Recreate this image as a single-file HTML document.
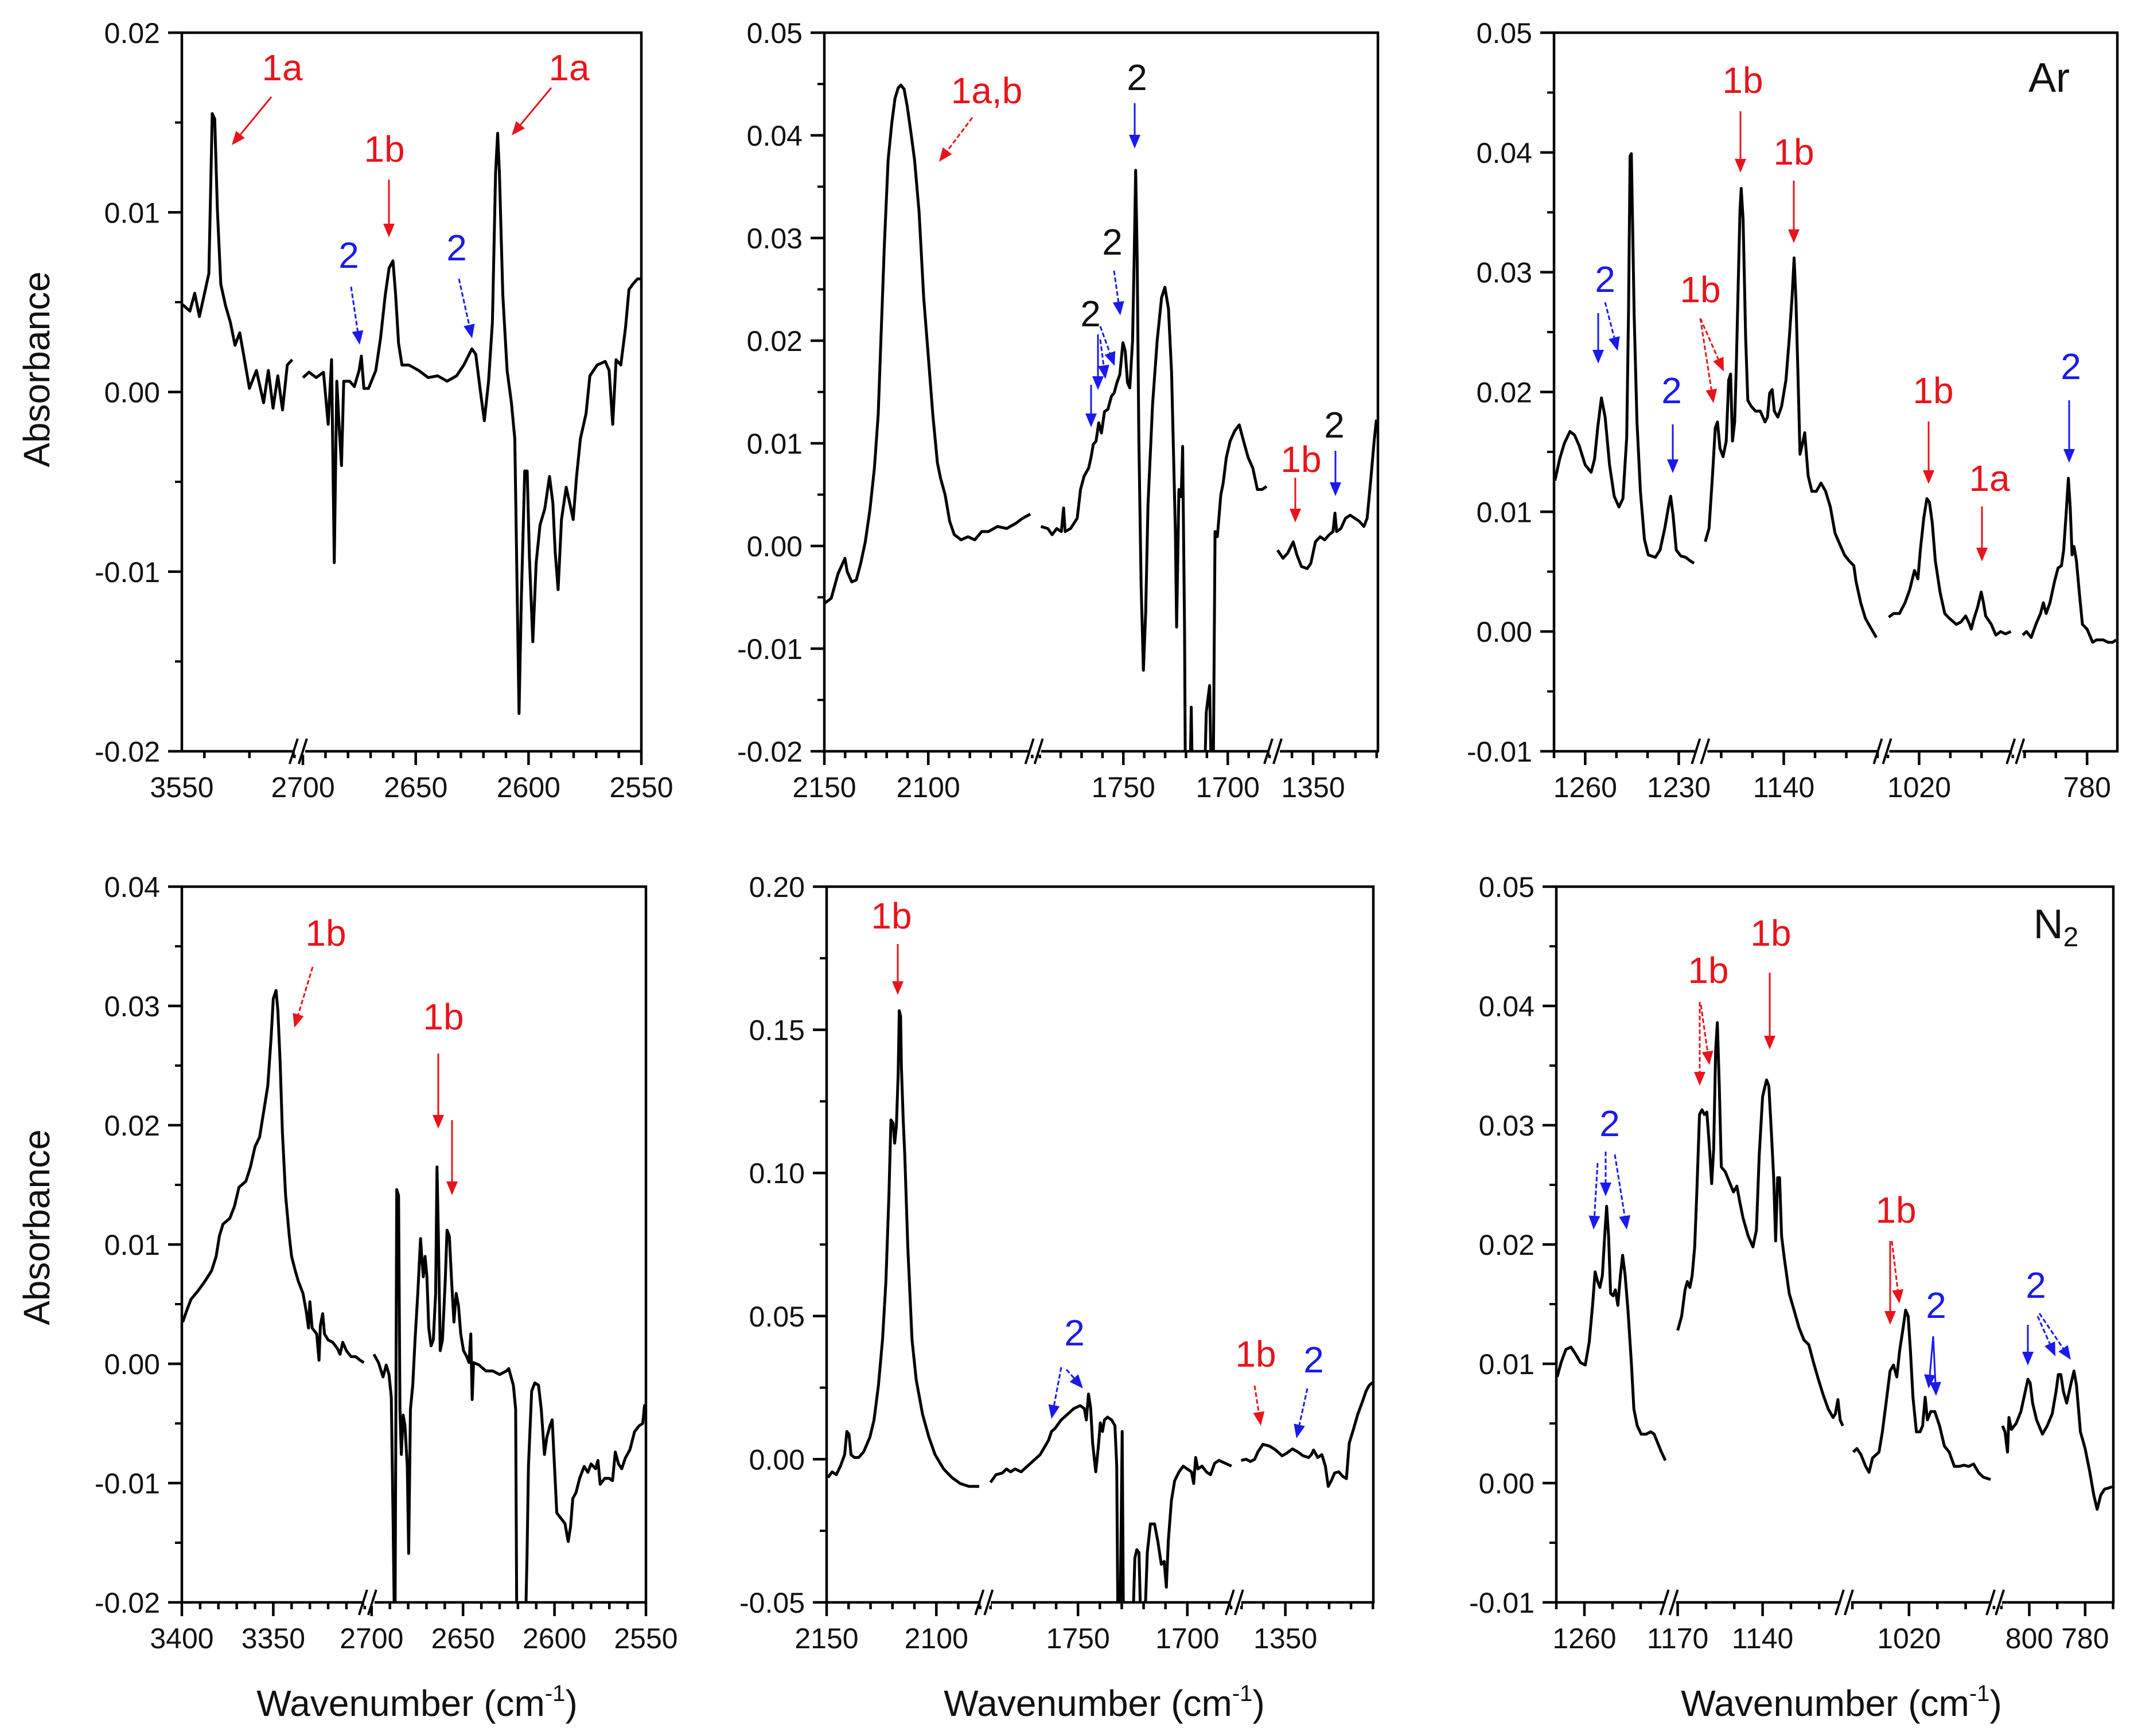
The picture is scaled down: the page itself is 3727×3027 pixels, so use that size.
<!DOCTYPE html>
<html><head><meta charset="utf-8"><style>
html,body{margin:0;padding:0;background:#fff}
svg{display:block}
text{font-family:"Liberation Sans",Arial,sans-serif}
</style></head><body>
<svg id="fig" width="3727" height="3027" viewBox="0 0 3727 3027" xmlns="http://www.w3.org/2000/svg">
<rect width="3727" height="3027" fill="#fff"/>
</svg>
<script>
// ---------- DATA (wavenumber cm-1, absorbance) ----------
const p1aX=[3550,3546.4,3544.3,3542.2,3540.1,3538,3536.5,3535.4,3534.2,3532.7,3530.6,3528.5,3526.4,3524.3,3522.2,3520,3516.9,3513.7,3511.6,3509.5,3507.4,3505.3,3503.2,3501];
const p1aY=[0.0049,0.0045,0.0055,0.0042,0.0054,0.0066,0.0155,0.0152,0.0101,0.006,0.0048,0.0039,0.0026,0.0033,0.0018,0.0002,0.0012,-0.0006,0.0012,-0.0009,0.0009,-0.001,0.0015,0.0018];
const p1bX=[2700,2697.3,2694.1,2690.9,2688.8,2687.3,2686.1,2685,2684,2682.9,2681.9,2679.3,2677.2,2675.1,2674.1,2673,2670.9,2667.7,2665.6,2663.5,2661.8,2660.1,2658.9,2657.6,2656.1,2653,2648.7,2644.5,2640.3,2636.1,2631.9,2628.7,2625.1,2623.4,2621.3,2619.6,2617.7,2616,2614.6,2613.7,2612.9,2611.4,2609.5,2607.6,2606.1,2605.1,2604.2,2603.2,2601.7,2600.6,2599.6,2598.1,2596.6,2594.9,2592.8,2590.7,2589.2,2588.2,2586.9,2585.4,2583.3,2581.2,2580.2,2578.7,2577,2574.5,2572.8,2569.6,2566,2564.3,2562.7,2561.2,2559.1,2557,2555.5,2553.8,2551.7,2550];
const p1bY=[0.0008,0.0011,0.0008,0.0011,-0.0018,0.0018,-0.0095,0.0006,-0.0018,-0.0041,0.0006,0.0006,0.0003,0.0012,0.002,0.0002,0.0002,0.0012,0.003,0.0054,0.0069,0.0073,0.0054,0.0027,0.0015,0.0015,0.0012,0.0008,0.0009,0.0006,0.0009,0.0015,0.0024,0.0021,0,-0.0016,0.0006,0.0039,0.0122,0.0144,0.0122,0.0054,0.0012,-0.0006,-0.0026,-0.0107,-0.0179,-0.0115,-0.0044,-0.0044,-0.0092,-0.0139,-0.0095,-0.0074,-0.0065,-0.0047,-0.0062,-0.0089,-0.011,-0.0071,-0.0053,-0.0065,-0.0071,-0.0047,-0.0026,-0.0012,0.0009,0.0015,0.0017,0.0012,-0.0018,0.0018,0.0015,0.0036,0.0057,0.006,0.0063,0.0063];
const p2aX=[2150,2146.7,2143.4,2140.1,2139,2136.8,2134.6,2132.5,2130.3,2128.1,2125.9,2124.1,2122.6,2121.1,2119.3,2117.5,2116,2114.5,2113.2,2111.6,2110.1,2108.3,2106.6,2104.4,2102.2,2100,2097.8,2095.6,2094.1,2091.9,2089.7,2087.5,2084.2,2080.9,2077.6,2074.3,2071.1,2066.7,2062.3,2057.9,2054.6,2050.9];
const p2aY=[-0.0056,-0.0051,-0.0027,-0.0012,-0.0025,-0.0035,-0.0033,-0.0017,0.0004,0.0035,0.0076,0.0128,0.0211,0.0294,0.0376,0.0413,0.0436,0.0446,0.0449,0.0445,0.0428,0.0402,0.0376,0.0325,0.0242,0.0185,0.0128,0.0081,0.0066,0.005,0.0024,0.0011,0.0006,0.0009,0.0006,0.0014,0.0014,0.0019,0.0017,0.0022,0.0027,0.0031];
const p2bX=[1789.5,1786.2,1784.1,1781.9,1779.7,1778.6,1777.9,1775.3,1772.1,1770.5,1768.8,1766.6,1765.5,1764.4,1763.1,1761.8,1760.5,1759,1757.4,1755.7,1754.4,1753.1,1751.7,1750.2,1749.1,1748,1746.9,1745.6,1744.8,1744.1,1743.4,1742.6,1741.5,1740.4,1739.3,1738.2,1736,1733.8,1731.7,1730.1,1728.4,1726.9,1725.8,1725.1,1724.5,1723.4,1722.3,1721.6,1720.7,1720.1,1718.6,1717.5,1716.4,1714.6,1712,1710.3,1708.7,1707.2,1706.1,1705,1703.3,1702.2,1700.7,1698.9,1696.7,1694.5,1692.4,1690.2,1688,1685.8,1683.6,1681.4];
const p2bY=[0.0019,0.0017,0.0011,0.0017,0.0014,0.0037,0.0014,0.0017,0.0027,0.0055,0.0068,0.0076,0.0086,0.0099,0.0102,0.012,0.011,0.0131,0.0133,0.0146,0.0149,0.0159,0.0167,0.0198,0.019,0.0159,0.0154,0.02,0.0283,0.0366,0.0283,0.0107,-0.0038,-0.0121,-0.0064,0.004,0.0138,0.02,0.0242,0.0252,0.0231,0.0169,0.0076,0.0014,-0.0079,0.0055,0.0048,0.0097,-0.0079,-0.03,-0.03,-0.0157,-0.03,-0.03,-0.03,-0.0162,-0.0136,-0.03,0.0014,0.0009,0.005,0.0061,0.0086,0.0102,0.0112,0.0118,0.0102,0.0086,0.0076,0.0055,0.0055,0.0058];
const p2cX=[1366.8,1364.2,1362,1359.4,1357.6,1355.5,1352.8,1351.1,1348.9,1346.7,1344.5,1342.4,1340.6,1339.7,1338.9,1336.9,1334.7,1332.5,1330.3,1328.2,1326,1324.5,1322.7,1321.2,1320.1];
const p2cY=[-0.0004,-0.0012,-0.0007,0.0004,-0.0009,-0.002,-0.0022,-0.0017,0.0004,0.0009,0.0006,0.0011,0.0014,0.0032,0.0014,0.0017,0.0027,0.003,0.0027,0.0024,0.0019,0.0027,0.0066,0.0102,0.0123];
const p3aX=[1269.7,1268.2,1266.7,1264.9,1263.4,1261.9,1260,1258.1,1257,1256,1254.8,1253.6,1252.2,1250.7,1249.2,1247.9,1246.7,1246.1,1245.6,1245.2,1244.7,1244.3,1243.4,1242.3,1241,1239.8,1237.5,1236,1234.5,1233.3,1232.6,1231.8,1230.8,1229.3,1227.8,1226.3,1225.1];
const p3aY=[0.0126,0.0144,0.0157,0.0167,0.0164,0.0155,0.0139,0.0133,0.0144,0.017,0.0195,0.0179,0.0139,0.0113,0.0104,0.0111,0.0162,0.0268,0.0397,0.0399,0.0326,0.0264,0.0175,0.0117,0.0077,0.0064,0.0062,0.0068,0.0086,0.0104,0.0113,0.0097,0.0068,0.0063,0.0062,0.0059,0.0057];
const p3bX=[1165.1,1163.9,1162.8,1161.9,1161.2,1160.4,1159.4,1158.4,1157.6,1157,1156.4,1155.7,1155.2,1154.6,1154,1153.6,1153,1152.2,1151.5,1150.4,1149,1147.5,1146,1145.2,1144.5,1143.7,1143,1141.9,1140.7,1139.3,1138.2,1137.3,1136.7,1136.1,1135.5,1134.8,1134,1133.3,1132.2,1131,1129.6,1128.1,1126.6,1125.1,1123.6,1122.1,1120.6,1119.1,1117.6,1116.9,1115.4,1113.9,1112.4,1110.4];
const p3bY=[0.0075,0.0086,0.013,0.017,0.0175,0.0153,0.0146,0.0159,0.021,0.0215,0.0159,0.0175,0.0219,0.0286,0.0352,0.037,0.0344,0.0246,0.0193,0.0188,0.0184,0.0184,0.0175,0.0179,0.0199,0.0202,0.0184,0.0179,0.0188,0.021,0.0246,0.0281,0.0312,0.0277,0.0219,0.0148,0.0157,0.0166,0.013,0.0117,0.0117,0.0124,0.0117,0.0104,0.0082,0.0073,0.0064,0.0059,0.0055,0.0042,0.0024,0.0011,0.0004,-0.0005];
const p3cX=[1029.7,1028.2,1026.3,1024.5,1023,1021.5,1020.4,1019.6,1018.5,1017.5,1016.7,1015.8,1014.8,1013.3,1011.8,1010.3,1008.1,1006.6,1005.1,1004,1003.3,1002.4,1001.3,1000.1,999.4,998.7,996.9,995.4,993.9,992.4,990.6];
const p3cY=[0.0012,0.0015,0.0015,0.0024,0.0035,0.0051,0.0044,0.0068,0.0095,0.0111,0.0108,0.0091,0.0059,0.0033,0.0015,0.0011,0.0006,0.0008,0.0013,0.0007,0.0002,0.0011,0.002,0.0033,0.0024,0.0013,0.0006,-0.0003,0,-0.0002,0];
const p3dX=[800.6,799.4,797.9,796.4,794.9,794,793.1,791.9,790.4,789.3,788.2,787.5,786.7,786,785.4,784.8,784.2,783.4,782.5,781.5,780,778.2,777,774.8,773.3,771.8,770.7];
const p3dY=[-0.0003,0,-0.0005,0.0006,0.0015,0.0024,0.0015,0.0024,0.0042,0.0053,0.0055,0.0068,0.0099,0.0128,0.0104,0.0064,0.0071,0.0059,0.0033,0.0006,0.0002,-0.0009,-0.0007,-0.0007,-0.0009,-0.0009,-0.0007];
const p4aX=[3399.5,3397.5,3395,3391.25,3387.5,3383.75,3381.25,3379.5,3377.5,3373.75,3371.25,3368.75,3365,3362.5,3360,3357.5,3355,3353,3351.25,3350,3348.5,3347.5,3346.25,3345,3343.25,3341.25,3340,3338,3336.25,3333.75,3332,3330.75,3330,3328.75,3326.25,3325,3324.25,3323,3322,3320,3317.5,3315,3313.5,3312,3310,3307.5,3305,3302.5,3300.5];
const p4aY=[0.0035,0.0044,0.0054,0.0061,0.0069,0.0078,0.009,0.0107,0.0117,0.0122,0.0132,0.0148,0.0153,0.0165,0.0182,0.019,0.0214,0.0233,0.0272,0.0306,0.0313,0.0296,0.0252,0.0194,0.0141,0.0107,0.009,0.0078,0.0069,0.0059,0.0044,0.003,0.0052,0.003,0.0025,0.0003,0.0032,0.0042,0.0025,0.002,0.0018,0.0013,0.0008,0.0018,0.0011,0.0006,0.0006,0.0003,0.0001];
const p4bX=[2698.75,2696.25,2693.75,2692,2690.5,2689.25,2688.25,2687.25,2686.25,2685.25,2684.5,2683.75,2682.75,2681.75,2680.5,2679.75,2678.75,2677.5,2676.25,2674.75,2673.25,2672.5,2671.75,2670.75,2669.75,2668.75,2667.5,2666.25,2665,2664.25,2663.5,2662.5,2661.25,2659.75,2658.75,2657.5,2656.25,2655,2653.75,2652.5,2651.25,2649.75,2648,2646.75,2645.75,2645,2644.25,2641.25,2637.5,2633.75,2630,2626.25,2625,2623.75,2622.5,2621.25,2620.5,2619.25,2616.25,2615,2614.25,2612.5,2610.75,2608.75,2607.25,2605.5,2604.25,2602.5,2601.25,2600,2598.75,2596.25,2594.25,2592.5,2591.25,2590,2588.25,2586.25,2583.75,2581.75,2580,2577.5,2576.25,2575,2572.5,2570,2568.25,2566.75,2565,2563.25,2561.25,2558.75,2556.25,2553.75,2551.75,2550.75,2550];
const p4bY=[0.0008,0.0001,-0.0011,-0.0001,-0.0009,-0.0028,-0.0134,-0.025,0.0146,0.0141,-0.0038,-0.0076,-0.0043,-0.0052,-0.0086,-0.0159,-0.0038,-0.0018,0.002,0.0059,0.0105,0.0088,0.0073,0.009,0.0073,0.003,0.0015,0.002,0.0059,0.0165,0.0107,0.0011,0.002,0.0069,0.0112,0.0107,0.0069,0.0035,0.0059,0.0049,0.0025,0.0011,0.0006,0.0001,0.0025,-0.003,0.0001,-0.0001,-0.0006,-0.0006,-0.0009,-0.0006,-0.0004,-0.0011,-0.0018,-0.0038,-0.025,-0.025,-0.025,-0.0159,-0.0086,-0.0023,-0.0016,-0.0018,-0.0038,-0.0076,-0.0062,-0.0052,-0.0047,-0.0086,-0.0125,-0.013,-0.0134,-0.0149,-0.0137,-0.0113,-0.0108,-0.0096,-0.0086,-0.0091,-0.0084,-0.0088,-0.0081,-0.0101,-0.0096,-0.0096,-0.0098,-0.0074,-0.0084,-0.0088,-0.0079,-0.0072,-0.0057,-0.0052,-0.005,-0.0035,-0.0038];
const p5aX=[2149.4,2147.5,2145.6,2143.7,2141.8,2140.8,2139.8,2138.9,2137.4,2135.4,2133.1,2130.3,2128.4,2126.4,2124.5,2123,2121.6,2120.7,2119.7,2119,2118.2,2117.4,2116.9,2116.3,2115.9,2115.1,2114.4,2113,2111.1,2109.2,2106.3,2103.4,2100.6,2096.7,2092.9,2089.1,2085.2,2080.5];
const p5aY=[-0.0064,-0.0044,-0.0054,-0.0024,0.0016,0.0097,0.0087,0.0016,0.0006,0.0006,0.0026,0.0077,0.0137,0.0258,0.0419,0.062,0.0923,0.1185,0.1174,0.1104,0.1164,0.1346,0.1567,0.1547,0.1366,0.1185,0.1064,0.0741,0.0419,0.0278,0.0157,0.0077,0.0016,-0.0034,-0.0064,-0.0085,-0.0095,-0.0095];
const p5bX=[1790,1787.5,1784.6,1782.7,1780.8,1778.8,1776,1773.1,1770.2,1767.3,1765,1763.5,1762.1,1760.6,1757.7,1754.8,1751.9,1749,1747.1,1746.2,1745.2,1744.2,1743.3,1741.9,1740.8,1739.8,1738.8,1737.9,1736.5,1734.6,1733.1,1732.3,1731.7,1730.8,1729.8,1729.2,1725,1724,1723.1,1722.1,1721.2,1719.6,1718.3,1716.9,1715,1713.5,1711.9,1710.6,1709.6,1708.7,1707.3,1705.8,1703.8,1701.9,1700,1698.1,1697.1,1696.2,1695.2,1693.3,1691.3,1689.4,1687.5,1685.6,1682.7,1679.8];
const p5bY=[-0.0081,-0.0054,-0.0048,-0.0034,-0.0044,-0.0034,-0.0044,-0.0024,-0.0004,0.0016,0.0046,0.0066,0.0097,0.0107,0.0137,0.0157,0.0177,0.0187,0.0177,0.0137,0.0228,0.0177,0.0056,-0.0044,0.0036,0.0127,0.0097,0.0137,0.0147,0.0137,0.0117,-0.0024,-0.06,-0.06,0.0097,-0.06,-0.06,-0.0346,-0.0316,-0.0326,-0.06,-0.06,-0.0326,-0.0226,-0.0226,-0.0286,-0.0367,-0.0357,-0.0447,-0.0286,-0.0145,-0.0075,-0.0044,-0.0024,-0.0034,-0.0044,-0.0085,0.0006,-0.0034,-0.0024,-0.0044,-0.0054,-0.0014,-0.0004,-0.0014,-0.0024];
const p5cX=[1370.2,1367.9,1366,1364,1362.5,1360.2,1357.3,1354.4,1351.5,1349.6,1346.7,1344.4,1341.9,1339.4,1338.1,1337.1,1335.2,1333.3,1331.7,1330.4,1329,1327.5,1325.6,1323.7,1322.1,1320.8,1318.8,1316.9,1315,1313.1,1311.7,1310.2];
const p5cY=[-0.0004,0,-0.0008,0,0.0026,0.0052,0.0046,0.0032,0.0012,0.002,0.0036,0.0026,0.0012,0.0006,0.0016,0.0032,0.0006,0.0016,-0.0024,-0.0095,-0.0075,-0.0048,-0.0044,-0.006,-0.0068,0.0056,0.0107,0.0157,0.0197,0.0238,0.0258,0.0268];
const p6aX=[1269.7,1268.3,1266.6,1264.8,1263.1,1261.4,1259.7,1258.3,1257.1,1256.2,1255.3,1254.5,1253.6,1252.8,1252.1,1251.4,1250.7,1249.8,1249,1248.1,1247.2,1246.4,1245.5,1244.5,1243.3,1242.4,1241.2,1239.8,1238.1,1236.4,1235.2,1233.8,1232.6,1231.2];
const p6aY=[0.0089,0.0101,0.0112,0.0114,0.0108,0.0101,0.0099,0.0118,0.0149,0.0177,0.0169,0.0164,0.0174,0.0207,0.0232,0.0207,0.0159,0.0157,0.0162,0.0149,0.0174,0.0191,0.0174,0.0145,0.0101,0.0062,0.0048,0.0041,0.0041,0.0043,0.0041,0.0033,0.0026,0.0019];
const p6bX=[1170,1168.6,1167.4,1166.6,1165.7,1164.9,1164,1163.2,1162.3,1161.4,1160.6,1159.7,1158.9,1158,1157.3,1156.6,1156,1155.3,1154.6,1153.2,1151.5,1150.3,1149.1,1148.1,1146.9,1145.1,1143.4,1142.2,1141.2,1140,1138.6,1137.8,1136.9,1136.1,1135.4,1134.7,1134,1133.3,1132.3,1130.6,1128.9,1127.1,1125.4,1123.7,1122,1120.3,1118.6,1116.8,1115.1,1114.3,1113.4,1112.6,1111.7];
const p6bY=[0.0128,0.014,0.0162,0.0169,0.0164,0.0174,0.0198,0.0246,0.0309,0.0313,0.0309,0.0311,0.0285,0.0251,0.028,0.0362,0.0386,0.0333,0.0265,0.0261,0.0251,0.0244,0.0249,0.0236,0.0222,0.0207,0.0198,0.0212,0.0275,0.0324,0.0338,0.0333,0.0294,0.0256,0.0203,0.0256,0.0256,0.0207,0.0188,0.0159,0.0145,0.013,0.012,0.0116,0.0101,0.0087,0.0074,0.0062,0.0055,0.0058,0.007,0.0053,0.0048];
const p6cX=[1039.7,1038.4,1037,1035.3,1034.1,1032.9,1030.6,1029.4,1028.1,1026.7,1025.5,1024.3,1023.3,1022.1,1021.2,1020.3,1019.5,1018.6,1017.4,1016.1,1015.2,1014.3,1013.5,1012.3,1010.9,1009.2,1007.5,1005.8,1004,1002.3,1000.6,998.9,997.2,995.5,993.8,991.2];
const p6cY=[0.0026,0.0029,0.0024,0.0014,0.0009,0.0021,0.0026,0.0043,0.0067,0.0094,0.0099,0.0089,0.0111,0.013,0.0145,0.014,0.0111,0.0072,0.0043,0.0043,0.0048,0.0072,0.0053,0.006,0.006,0.0048,0.0031,0.0026,0.0014,0.0014,0.0015,0.0014,0.0016,0.0009,0.0005,0.0003];
const p6dX=[809.6,808.7,807.8,807.3,806.4,804.7,803,801.7,800.5,799.7,798.8,797.4,795.3,793.6,791.8,790.4,789.6,788.7,787.8,786.6,785.2,784,783.1,781.7,780,778.3,776.9,775.7,774.4,773,771.3,770.4];
const p6dY=[0.0048,0.0043,0.0026,0.0055,0.0045,0.005,0.006,0.0074,0.0087,0.0084,0.0067,0.0053,0.0041,0.0048,0.0058,0.0077,0.0091,0.0091,0.0077,0.0067,0.0082,0.0094,0.0082,0.0043,0.0029,0.0009,-0.001,-0.0022,-0.001,-0.0005,-0.0004,-0.0003];

const p1YTicks=[0.02,0.01,0.00,-0.01,-0.02];
const p2YTicks=[0.05,0.04,0.03,0.02,0.01,0.00,-0.01,-0.02];
const p3YTicks=[0.05,0.04,0.03,0.02,0.01,0.00,-0.01];
const p4YTicks=[0.04,0.03,0.02,0.01,0.00,-0.01,-0.02];
const p5YTicks=[0.20,0.15,0.10,0.05,0.00,-0.05];
const p6YTicks=[0.05,0.04,0.03,0.02,0.01,0.00,-0.01];

const panels=[
 {id:'p1',L:317,R:1118,T:57,B:1310,yMin:-0.02,yMax:0.02,yt:p1YTicks,ys:0.01,
  segs:[{f0:0,f1:0.2505,w0:3550,w1:3498.9,maj:[3550],step:20,xs:[p1aX],ysr:[p1aY]},
        {f0:0.2635,f1:1,w0:2700,w1:2550,maj:[2700,2650,2600,2550],step:10,xs:[p1bX],ysr:[p1bY]}],br:[0.257]},
 {id:'p2',L:1437,R:2402,T:57,B:1310,yMin:-0.02,yMax:0.05,yt:p2YTicks,ys:0.01,
  segs:[{f0:0,f1:0.377,w0:2150,w1:2049.6,maj:[2150,2100],step:10,xs:[p2aX],ysr:[p2aY]},
        {f0:0.387,f1:0.811,w0:1790.6,w1:1678.2,maj:[1750,1700],step:10,xs:[p2bX],ysr:[p2bY]},
        {f0:0.816,f1:1,w0:1367.5,w1:1319.4,maj:[1350],step:10,xs:[p2cX],ysr:[p2cY]}],br:[0.382,0.8135]},
 {id:'p3',L:2709,R:3691,T:57,B:1310,yMin:-0.01,yMax:0.05,yt:p3YTicks,ys:0.01,
  segs:[{f0:0,f1:0.2585,w0:1270,w1:1223.3,maj:[1260,1230],step:10,xs:[p3aX],ysr:[p3aY]},
        {f0:0.2668,f1:0.5816,w0:1165.4,w1:1108.7,maj:[1140],step:10,xs:[p3bX],ysr:[p3bY]},
        {f0:0.5899,f1:0.8177,w0:1030.5,w1:989.4,maj:[1020],step:10,xs:[p3cX],ysr:[p3cY]},
        {f0:0.826,f1:1,w0:801.7,w1:770.3,maj:[780],step:10,xs:[p3dX],ysr:[p3dY]}],br:[0.263,0.586,0.822]},
 {id:'p4',L:317,R:1126,T:1546,B:2794,yMin:-0.02,yMax:0.04,yt:p4YTicks,ys:0.01,
  segs:[{f0:0,f1:0.399,w0:3400,w1:3298.75,maj:[3400,3350],step:10,xs:[p4aX],ysr:[p4aY]},
        {f0:0.4089,f1:1,w0:2700,w1:2550,maj:[2700,2650,2600,2550],step:10,xs:[p4bX],ysr:[p4bY]}],br:[0.404]},
 {id:'p5',L:1441,R:2394,T:1546,B:2794,yMin:-0.05,yMax:0.20,yt:p5YTicks,ys:0.05,
  segs:[{f0:0,f1:0.287,w0:2150,w1:2078.5,maj:[2150,2100],step:10,xs:[p5aX],ysr:[p5aY]},
        {f0:0.2946,f1:0.7446,w0:1791.3,w1:1678.8,maj:[1750,1700],step:10,xs:[p5bX],ysr:[p5bY]},
        {f0:0.7538,f1:1,w0:1371.3,w1:1309.8,maj:[1350],step:10,xs:[p5cX],ysr:[p5cY]}],br:[0.291,0.749]},
 {id:'p6',L:2713,R:3684,T:1546,B:2794,yMin:-0.01,yMax:0.05,yt:p6YTicks,ys:0.01,
  segs:[{f0:0,f1:0.2003,w0:1270,w1:1230.3,maj:[1260],step:10,xs:[p6aX],ysr:[p6aY]},
        {f0:0.2108,f1:0.5157,w0:1171.4,w1:1111.4,maj:[1170,1140],step:10,xs:[p6bX],ysr:[p6bY]},
        {f0:0.5244,f1:0.7857,w0:1041.4,w1:990,maj:[1020],step:10,xs:[p6cX],ysr:[p6cY]},
        {f0:0.797,f1:1,w0:810.4,w1:769.9,maj:[800,780],step:10,xs:[p6dX],ysr:[p6dY]}],br:[0.2055,0.52,0.791]}
];

const NS='http://www.w3.org/2000/svg';
const svg=document.getElementById('fig');
function mk(tag,attrs,parent){const e=document.createElementNS(NS,tag);for(const k in attrs)e.setAttribute(k,attrs[k]);(parent||svg).appendChild(e);return e;}
function fmt(v){const s=Math.abs(v).toFixed(2);return (v<-1e-9?'-':'')+s;}

panels.forEach(function(P){
  const g=mk('g',{});
  
  
  const W=P.R-P.L;
  const yS=v=>P.B-(v-P.yMin)/(P.yMax-P.yMin)*(P.B-P.T);
  const xS=(s,w)=>P.L+W*(s.f0+(s.f1-s.f0)*(w-s.w0)/(s.w1-s.w0));
  const cp=mk('clipPath',{id:'clip-'+P.id},g);
  mk('rect',{x:P.L,y:P.T,width:W,height:P.B-P.T},cp);
  P.segs.forEach(function(s,si){
    s.xs.forEach(function(xa,k){
      const ya=s.ysr[k];
      let d='';
      for(let i=0;i<xa.length;i++){d+=(i?'L':'M')+xS(s,xa[i]).toFixed(1)+' '+yS(ya[i]).toFixed(1);}
      const p=mk('path',{d:d,fill:'none',stroke:'#000','stroke-width':5,'stroke-linejoin':'round','clip-path':'url(#clip-'+P.id+')'},g);
      
      
    });
  });
  const fr=mk('rect',{x:P.L,y:P.T,width:W,height:P.B-P.T,fill:'none',stroke:'#000','stroke-width':4.5},g);
  
  
  const yg=mk('g',{},g);
  
  
  P.yt.forEach(function(v,i){
    const y=yS(v);
    mk('line',{x1:P.L-24,x2:P.L,y1:y,y2:y,stroke:'#000','stroke-width':4.5},yg);
    const t=mk('text',{x:P.L-38,y:y+18,'font-size':50,'text-anchor':'end',fill:'#111'},yg);
    t.textContent=fmt(v);
    
    
    if(i<P.yt.length-1){const ym=yS(v-P.ys/2);mk('line',{x1:P.L-12,x2:P.L,y1:ym,y2:ym,stroke:'#000','stroke-width':4},yg);}
  });
  const xg=mk('g',{},g);
  
  
  P.segs.forEach(function(s){
    const lo=Math.min(s.w0,s.w1),hi=Math.max(s.w0,s.w1);
    for(let w=Math.ceil(lo/s.step)*s.step;w<=hi+1e-6;w+=s.step){
      const x=xS(s,w);const isMaj=s.maj.indexOf(w)>=0;
      mk('line',{x1:x,x2:x,y1:P.B,y2:P.B+(isMaj?24:12),stroke:'#000','stroke-width':4.5},xg);
    }
    s.maj.forEach(function(w){
      const t=mk('text',{x:xS(s,w),y:P.B+80,'font-size':50,'text-anchor':'middle',fill:'#111'},xg);
      t.textContent=String(w);
      
      
    });
  });
  P.br.forEach(function(f){
    const x=P.L+W*f;
    mk('rect',{x:x-9,y:P.B-6,width:18,height:12,fill:'#fff'},xg);
    mk('line',{x1:x-18,y1:P.B+22,x2:x-4,y2:P.B-22,stroke:'#000','stroke-width':4},xg);
    mk('line',{x1:x-2,y1:P.B+22,x2:x+12,y2:P.B-22,stroke:'#000','stroke-width':4},xg);
  });
});

[[64,644],[64,2140]].forEach(function(c){
  const t=mk('text',{x:c[0]+22,y:c[1],'font-size':64,'text-anchor':'middle',transform:'rotate(-90 '+(c[0]+22)+' '+c[1]+')',fill:'#111'});
  t.textContent='Absorbance';
  
  
});
[727,1925,3210].forEach(function(x){
  const t=mk('text',{x:x,y:2992,'font-size':64,'text-anchor':'middle',fill:'#111'});
  t.innerHTML='Wavenumber (cm<tspan dy="-26" font-size="40">-1</tspan><tspan dy="26">)</tspan>';
  
  
});

const RED='#e8141b',BLUE='#1a1aee',BLK='#111';
const labels=[
 ['1a',492,140,RED],['1a',992,140,RED],['1b',670,282,RED],['2',608,467,BLUE],['2',796,454,BLUE],
 ['1a,b',1720,180,RED],['2',1982,157,BLK],['2',1939,444,BLK],['2',1901,569,BLK],['1b',2268,823,RED],['2',2326,763,BLK],
 ['2',2798,509,BLUE],['2',2914,703,BLUE],['1b',3038,162,RED],['1b',3127,287,RED],['1b',2964,527,RED],['1b',3370,703,RED],['1a',3468,856,RED],['2',3610,661,BLUE],
 ['1b',568,1649,RED],['1b',773,1795,RED],
 ['1b',1554,1619,RED],['2',1873,2346,BLUE],['1b',2189,2383,RED],['2',2290,2393,BLUE],
 ['2',2806,1981,BLUE],['1b',2978,1714,RED],['1b',3087,1649,RED],['1b',3305,2132,RED],['2',3375,2298,BLUE],['2',3549,2263,BLUE]
];
labels.forEach(function(l){
  const t=mk('text',{x:l[1],y:l[2],'font-size':64,'text-anchor':'middle',fill:l[3]});
  t.textContent=l[0];
  
  
});
(function(){
  const a=mk('text',{x:3572,y:160,'font-size':72,'text-anchor':'middle',fill:BLK});
  a.textContent='Ar';
  
  
  const t=mk('text',{x:3584,y:1636,'font-size':72,'text-anchor':'middle',fill:BLK});
  t.innerHTML='N<tspan dy="14" font-size="48">2</tspan>';
  
  
})();
const arrows=[
 [473,169,404,253,RED,0],[961,153,892,236,RED,0],[678,313,678,414,RED,0],[612,500,627,601,BLUE,1],[800,486,823,590,BLUE,1],
 [1695,205,1637,282,RED,1],[1978,180,1978,259,BLUE,0],[1942,472,1953,550,BLUE,1],[1914,583,1914,680,BLUE,0],[1918,592,1927,661,BLUE,1],[1918,569,1943,638,BLUE,1],[1902,671,1902,745,BLUE,0],[2258,833,2258,911,RED,0],[2328,786,2328,865,BLUE,0],
 [2786,546,2786,634,BLUE,0],[2798,527,2820,612,BLUE,1],[2916,740,2916,825,BLUE,0],[3034,194,3034,301,RED,0],[3127,315,3127,424,RED,0],[2964,555,2987,703,RED,1],[2964,555,3005,648,RED,1],[3362,735,3362,844,RED,0],[3455,883,3455,979,RED,0],[3607,698,3607,807,BLUE,0],
 [545,1686,513,1792,RED,1],[764,1837,764,1968,RED,0],[788,1953,788,2084,RED,0],
 [1565,1646,1565,1735,RED,0],[1850,2384,1833,2474,BLUE,1],[1859,2388,1888,2421,BLUE,1],[2187,2416,2198,2486,RED,1],[2279,2421,2260,2508,BLUE,1],
 [2785,2028,2778,2144,BLUE,1],[2799,2008,2799,2086,BLUE,1],[2815,2013,2836,2144,BLUE,1],[2963,1747,2963,1893,RED,1],[2965,1752,2980,1857,RED,1],[3085,1696,3085,1830,RED,0],[3295,2164,3295,2310,RED,0],[3298,2164,3311,2273,RED,1],[3370,2330,3362,2421,BLUE,0],[3370,2330,3375,2434,BLUE,0],[3535,2310,3535,2381,BLUE,0],[3552,2295,3583,2365,BLUE,1],[3555,2290,3610,2371,BLUE,1]
];
arrows.forEach(function(a){
  const g=mk('g',{});
  
  
  const dx=a[2]-a[0],dy=a[3]-a[1],L=Math.hypot(dx,dy),ux=dx/L,uy=dy/L,h=24,w=10;
  const bx=a[2]-ux*h,by=a[3]-uy*h;
  const ln=mk('line',{x1:a[0],y1:a[1],x2:bx,y2:by,stroke:a[4],'stroke-width':3},g);
  if(a[5])ln.setAttribute('stroke-dasharray','8 4');
  mk('polygon',{points:a[2]+','+a[3]+' '+(bx-uy*w)+','+(by+ux*w)+' '+(bx+uy*w)+','+(by-ux*w),fill:a[4]},g);
});
</script>
</body></html>
